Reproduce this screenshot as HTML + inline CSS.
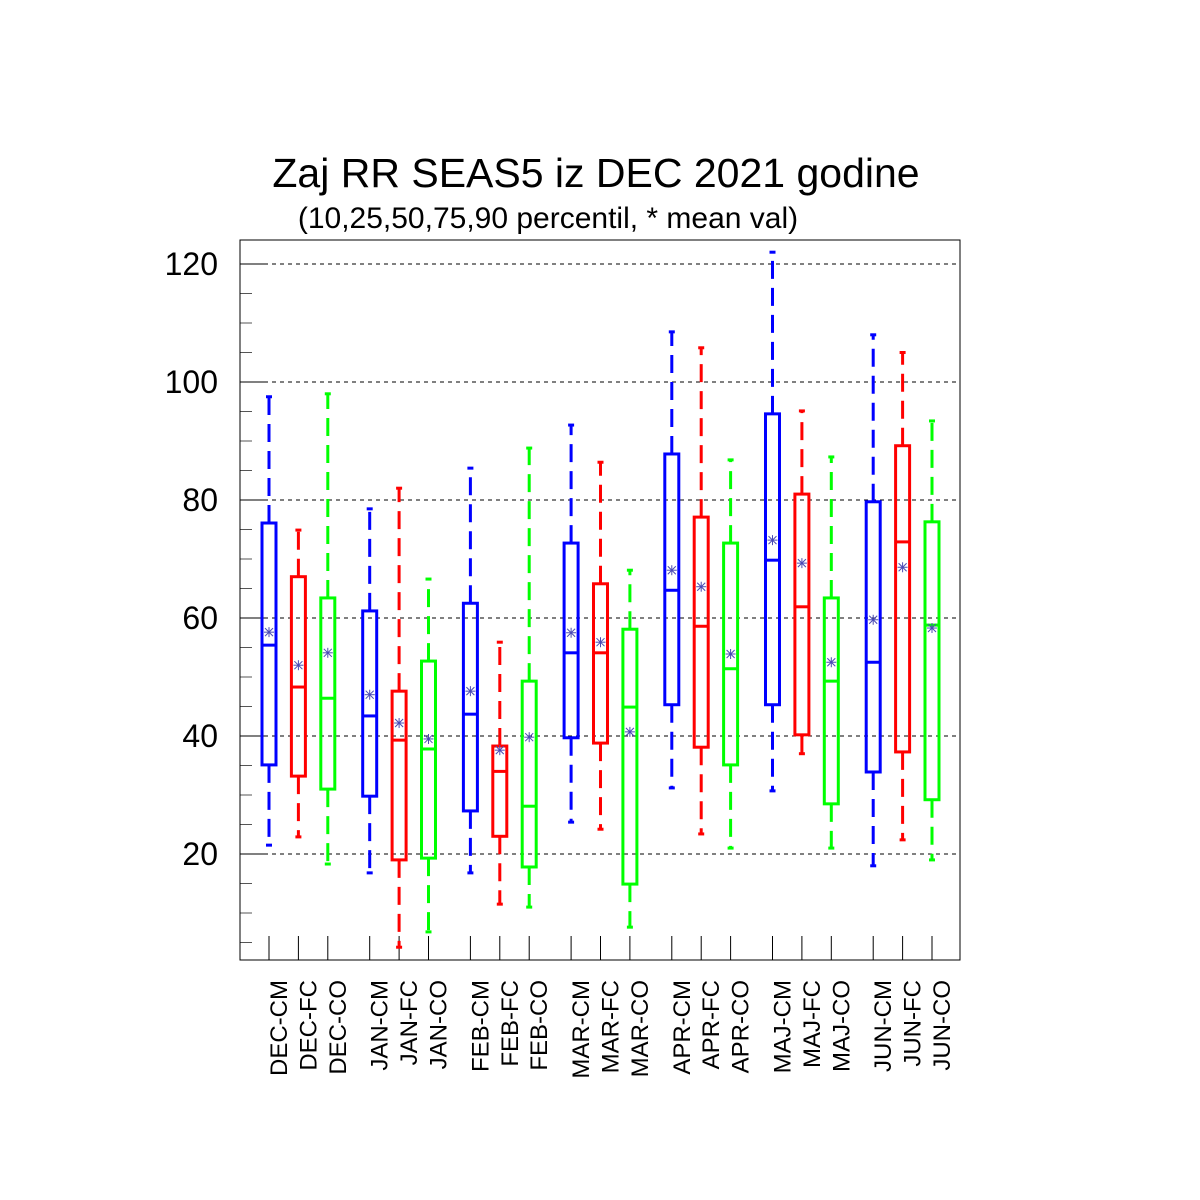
<!DOCTYPE html>
<html><head><meta charset="utf-8"><style>body{margin:0;background:#fff}svg{display:block}text{font-family:"Liberation Sans",sans-serif}</style></head>
<body>
<svg id="chart" width="1200" height="1200" viewBox="0 0 1200 1200">
<text x="596" y="187" font-size="41" text-anchor="middle">Zaj RR SEAS5 iz DEC 2021 godine</text>
<text x="548" y="228" font-size="30" text-anchor="middle">(10,25,50,75,90 percentil, * mean val)</text>
<g id="grid"></g><g id="axes"></g><g id="marks"></g>
<rect x="240" y="240" width="720" height="720" fill="none" stroke="#000" stroke-width="1"/>
</svg>
<script>
const categories=["DEC-CM","DEC-FC","DEC-CO","JAN-CM","JAN-FC","JAN-CO","FEB-CM","FEB-FC","FEB-CO","MAR-CM","MAR-FC","MAR-CO","APR-CM","APR-FC","APR-CO","MAJ-CM","MAJ-FC","MAJ-CO","JUN-CM","JUN-FC","JUN-CO"];
const p10=[21.5,22.9,18.3,16.8,4.2,6.8,16.8,11.5,11,25.4,24.2,7.6,31.2,23.4,21,30.7,37,21,18,22.4,19];
const p25=[35.1,33.2,31,29.8,19,19.3,27.3,23,17.8,39.7,38.8,14.9,45.3,38.1,35.1,45.3,40.2,28.5,33.9,37.3,29.2];
const p50=[55.4,48.3,46.4,43.4,39.3,37.8,43.7,34,28.1,54.1,54.1,44.9,64.7,58.6,51.4,69.8,61.9,49.3,52.5,72.9,58.8];
const p75=[76.1,67,63.4,61.2,47.6,52.7,62.5,38.3,49.3,72.7,65.8,58.1,87.8,77.1,72.7,94.6,81,63.4,79.7,89.2,76.3];
const p90=[97.5,74.9,98,78.5,82,66.6,85.4,55.9,88.8,92.7,86.4,68.1,108.5,105.8,86.8,122,95.1,87.3,108,105,93.4];
const means=[57.6,52,54.1,47,42.2,39.5,47.6,37.6,39.8,57.5,55.9,40.7,68.1,65.3,53.9,73.2,69.3,52.5,59.7,68.6,58.3];
const yTicks=[20,40,60,80,100,120];
const colors=["#0000ff","#ff0000","#00ff00"];
const NS="http://www.w3.org/2000/svg";
const y=v=>264+(120-v)*5.9;
const x=i=>269+Math.floor(i/3)*100.7+(i%3)*29.4;
function mk(tag,attrs,parent){const e=document.createElementNS(NS,tag);for(const k in attrs)e.setAttribute(k,attrs[k]);parent.appendChild(e);return e;}
const grid=document.getElementById('grid'),axes=document.getElementById('axes'),marks=document.getElementById('marks');
yTicks.forEach(t=>{
  const g=mk('line',{x1:240,x2:960,y1:y(t),y2:y(t),stroke:'#000','stroke-dasharray':'4 4','stroke-width':1},grid);
  
  
  const tk=mk('line',{x1:240,x2:264,y1:y(t),y2:y(t),stroke:'#000'},axes);
  
  
  const lb=mk('text',{x:218,y:y(t)+11,'font-size':32,'text-anchor':'end'},axes);
  lb.textContent=t;
  
  
});
for(let v=5;v<=120;v+=5){if(v%20===0)continue;
  const m=mk('line',{x1:240,x2:252,y1:y(v),y2:y(v),stroke:'#555'},axes);
  
  
}
categories.forEach((c,i)=>{
  const cx=x(i),col=colors[i%3];
  const bt=mk('line',{x1:cx,x2:cx,y1:936,y2:960,stroke:'#000'},axes);
  
  
  const lb=mk('text',{transform:`translate(${cx+18},980) rotate(-90)`,'font-size':24,'text-anchor':'end'},axes);
  lb.textContent=c;
  
  
  const g=mk('g',{},marks);
  
  
  mk('line',{x1:cx,x2:cx,y1:y(p75[i]),y2:y(p90[i]),stroke:col,'stroke-width':3,'stroke-dasharray':'18 9'},g);
  mk('line',{x1:cx,x2:cx,y1:y(p25[i]),y2:y(p10[i]),stroke:col,'stroke-width':3,'stroke-dasharray':'18 9'},g);
  mk('line',{x1:cx-3,x2:cx+3,y1:y(p90[i]),y2:y(p90[i]),stroke:col,'stroke-width':3},g);
  mk('line',{x1:cx-3,x2:cx+3,y1:y(p10[i]),y2:y(p10[i]),stroke:col,'stroke-width':3},g);
  mk('rect',{x:cx-7,y:y(p75[i]),width:14,height:y(p25[i])-y(p75[i]),fill:'none',stroke:col,'stroke-width':3},g);
  mk('line',{x1:cx-7,x2:cx+7,y1:y(p50[i]),y2:y(p50[i]),stroke:col,'stroke-width':3},g);
  const my=y(means[i]);
  [[-5,0,5,0],[-4,-4,4,4],[-4,4,4,-4],[0,-5,0,5]].forEach(d=>mk('line',{x1:cx+d[0],y1:my+d[1],x2:cx+d[2],y2:my+d[3],stroke:'#4b4bb4','stroke-width':1},g));
});
</script>
</body></html>
